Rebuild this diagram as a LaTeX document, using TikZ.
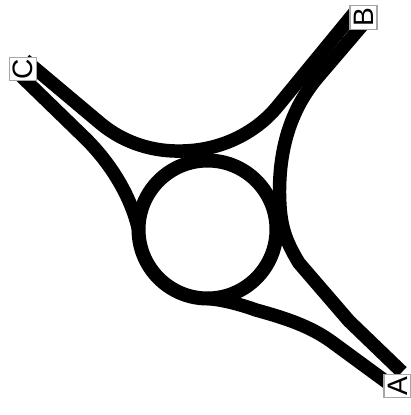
\documentclass[tikz,border=0pt]{standalone}
\usepackage{fontspec}
\setmainfont{Liberation Sans}

\begin{document}
\begin{tikzpicture}[
    x=0.02cm, y=-0.02cm,
    road/.style={draw=black, line width=0.27cm, line join=round},
    ring/.style={draw=black, circle, line width=0.28cm, minimum size=2.76cm, inner sep=0pt, outer sep=0pt},
    sign/.style={draw=black!35, fill=white, line width=0.6pt, rotate=90, font=\fontsize{16}{17}\selectfont, minimum width=0.47cm, minimum height=0.54cm, inner sep=0pt}
]
    \useasboundingbox (0,0) rectangle (411,415);

    \node[ring] (hub) at (207.5,229.5) {};

    % road ends, under the signs
    \coordinate (cUpper) at (25,60);
    \coordinate (cLower) at (18,73);
    \coordinate (bUpper) at (355,12);
    \coordinate (bLower) at (365,22);
    \coordinate (aUpper) at (402,372);
    \coordinate (aLower) at (392,386);

    \draw[road] (cUpper) -- (100,123) .. controls (125,144) and (155,152) .. (183,151)
        .. controls (225,150) and (258,130) .. (277,107) -- (bUpper);
    \draw[road] (cLower) -- (86,139) .. controls (112,165) and (131,197) .. (hub.west);
    \draw[road] (bLower) -- (318,77) .. controls (290,110) and (279,150) .. (279.5,195)
        .. controls (280,225) and (285,240) .. (299,263) -- (349,321) -- (aUpper);
    \draw[road] (hub.south) .. controls (225,300) and (242,305) .. (256,310)
        .. controls (285,318) and (310,326) .. (332,342) -- (aLower);

    \node[sign] (signC) at (23,69) {C};
    \node[sign] (signB) at (363.5,17.5) {B};
    \node[sign] (signA) at (397.5,386) {A};
\end{tikzpicture}
\end{document}
